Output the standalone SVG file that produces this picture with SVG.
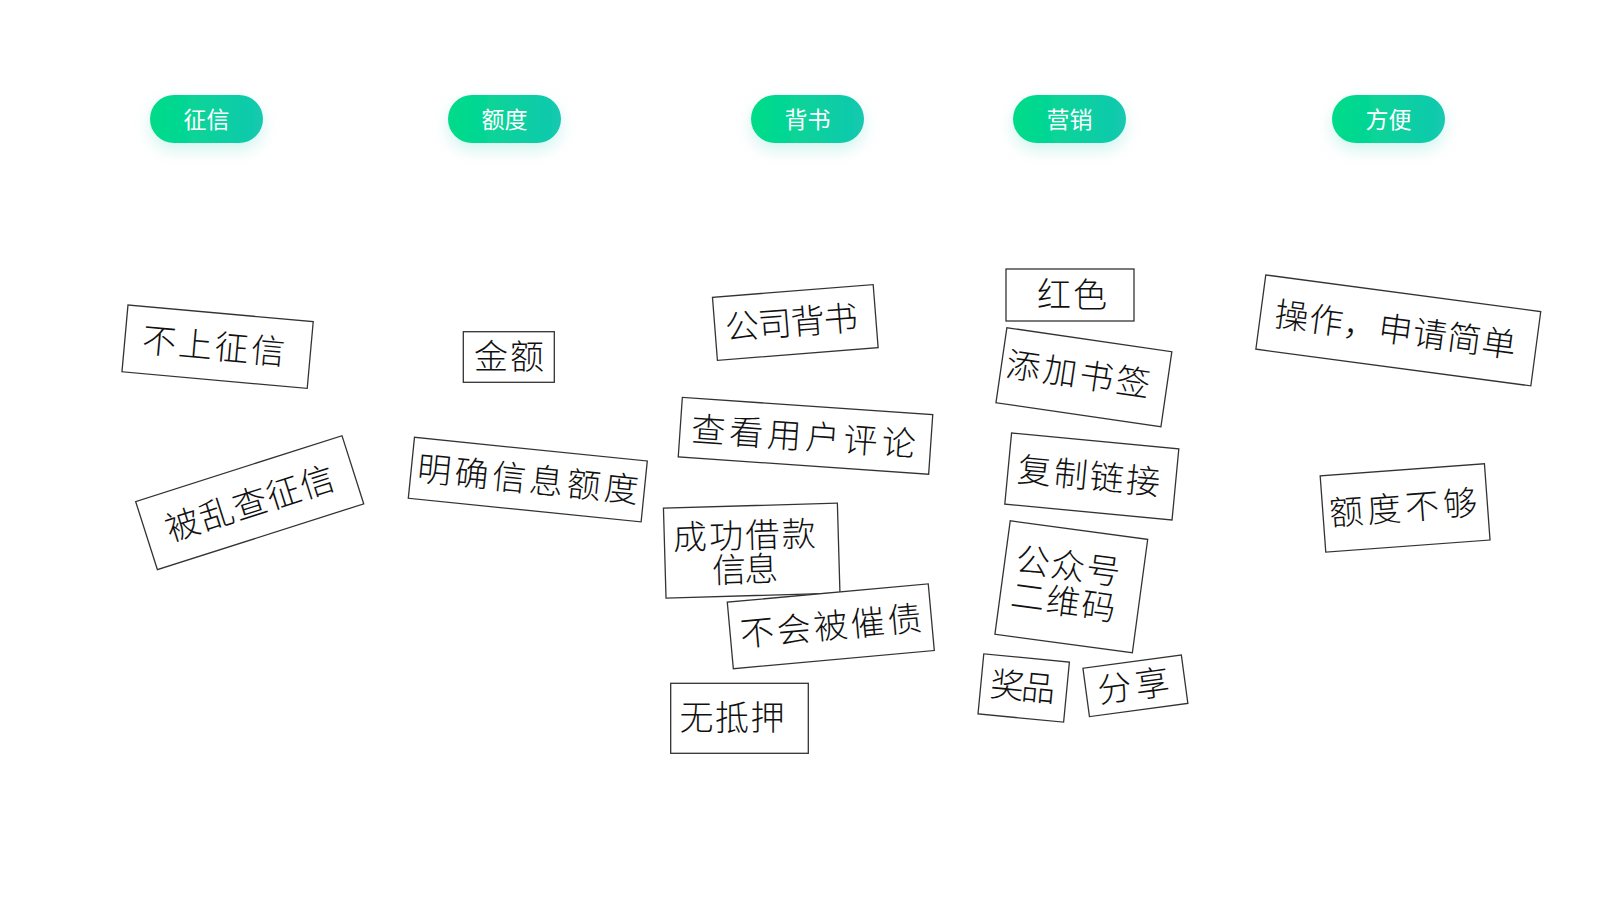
<svg xmlns="http://www.w3.org/2000/svg" width="1600" height="900" viewBox="0 0 1600 900">
<defs>
<linearGradient id="pillGrad" x1="0" y1="0" x2="1" y2="0">
<stop offset="0" stop-color="#00DC88"/>
<stop offset="1" stop-color="#13C8B0"/>
</linearGradient>
<filter id="pillShadow" x="-40%" y="-60%" width="180%" height="240%">
<feDropShadow dx="0" dy="7" stdDeviation="8" flood-color="#10c8a0" flood-opacity="0.18"/>
</filter>
</defs>
<style>
.pill{fill:url(#pillGrad);filter:url(#pillShadow)}
.pt{fill:#ffffff;font-family:"Noto Sans CJK SC","Noto Sans",sans-serif;font-size:23px;font-weight:400;text-anchor:middle}
.card{fill:#ffffff;stroke:#333333;stroke-width:1.3}
.ct{fill:#111111;font-family:"Noto Sans CJK SC","Noto Sans",sans-serif;font-size:34px;font-weight:300;text-anchor:middle}
</style>
<rect width="1600" height="900" fill="#ffffff"/>

<g id="header-zhengxin"><rect class="pill" x="150" y="95" width="113" height="48" rx="24"/><text class="pt" x="206.5" y="127.5">征信</text></g>
<g id="header-edu"><rect class="pill" x="448" y="95" width="113" height="48" rx="24"/><text class="pt" x="504.5" y="127.5">额度</text></g>
<g id="header-beishu"><rect class="pill" x="751" y="95" width="113" height="48" rx="24"/><text class="pt" x="807.5" y="127.5">背书</text></g>
<g id="header-yingxiao"><rect class="pill" x="1013" y="95" width="113" height="48" rx="24"/><text class="pt" x="1069.5" y="127.5">营销</text></g>
<g id="header-fangbian"><rect class="pill" x="1332" y="95" width="113" height="48" rx="24"/><text class="pt" x="1388.5" y="127.5">方便</text></g>

<g id="card-bushangzhengxin" transform="translate(217.6,346.7) rotate(5.15)"><rect class="card" x="-93" y="-33.5" width="186" height="67"/><text class="ct" x="-4" y="12" textLength="143" lengthAdjust="spacing">不上征信</text></g>
<g id="card-beiluanchazhengxin" transform="translate(249.7,502.7) rotate(-17.7)"><rect class="card" x="-108.3" y="-35.75" width="216.6" height="71.5"/><text class="ct" x="0" y="13" font-size="36" textLength="175" lengthAdjust="spacing">被乱查征信</text></g>

<g id="card-jine"><rect class="card" x="463.3" y="331.7" width="91" height="50.6"/><text class="ct" x="509" y="369" font-size="32" textLength="70" lengthAdjust="spacing">金额</text></g>
<g id="card-mingquexinxiedu" transform="translate(527.8,479.6) rotate(5.8)"><rect class="card" x="-117" y="-30.6" width="234" height="61.2"/><text class="ct" x="0" y="12" textLength="222" lengthAdjust="spacing">明确信息额度</text></g>

<g id="card-gongsibeishu" transform="translate(795.3,322.5) rotate(-4.5)"><rect class="card" x="-80.6" y="-31.6" width="161.2" height="63.2"/><text class="ct" x="-4" y="12" font-size="33" textLength="133" lengthAdjust="spacing">公司背书</text></g>
<g id="card-chakanyonghupinglun" transform="translate(805.5,435.8) rotate(3.95)"><rect class="card" x="-125.5" y="-29.85" width="251" height="59.7"/><text class="ct" x="-2" y="13" font-size="36" textLength="225" lengthAdjust="spacing">查看用户评论</text></g>
<g id="card-chenggongjiekuanxinxi" transform="translate(751.7,550.6) rotate(-1.65)"><rect class="card" x="-87" y="-45" width="174" height="90"/><text class="ct" x="-7" y="-3" textLength="143" lengthAdjust="spacing">成功借款</text><text class="ct" x="-7" y="31" textLength="66" lengthAdjust="spacing">信息</text></g>
<g id="card-buhuibeicuizhai" transform="translate(830.8,626.3) rotate(-5.2)"><rect class="card" x="-100.9" y="-33.45" width="201.8" height="66.9"/><text class="ct" x="0" y="12" textLength="182" lengthAdjust="spacing">不会被催债</text></g>
<g id="card-wudiya"><rect class="card" x="670.7" y="683.3" width="137.6" height="70"/><text class="ct" x="732" y="730" textLength="105" lengthAdjust="spacing">无抵押</text></g>

<g id="card-hongse"><rect class="card" x="1006" y="269" width="128" height="52"/><text class="ct" x="1072" y="307" textLength="70" lengthAdjust="spacing">红色</text></g>
<g id="card-tianjiashuqian" transform="translate(1083.9,377.2) rotate(8.28)"><rect class="card" x="-83.35" y="-37.9" width="166.7" height="75.8"/><text class="ct" x="-6" y="10" textLength="145" lengthAdjust="spacing">添加书签</text></g>
<g id="card-fuzhilianjie" transform="translate(1091.8,476.5) rotate(5.46)"><rect class="card" x="-84" y="-35.7" width="168" height="71.4"/><text class="ct" x="-3" y="12" textLength="143" lengthAdjust="spacing">复制链接</text></g>
<g id="card-gongzhonghaoerweima" transform="translate(1071.3,586.8) rotate(7.7)"><rect class="card" x="-69.35" y="-57.2" width="138.7" height="114.4"/><text class="ct" x="-6" y="-8" font-size="33" textLength="105" lengthAdjust="spacing">公众号</text><text class="ct" x="-6" y="28" font-size="33" textLength="105" lengthAdjust="spacing">二维码</text></g>
<g id="card-jiangpin" transform="translate(1023.7,688) rotate(5.5)"><rect class="card" x="-43" y="-30.15" width="86" height="60.3"/><text class="ct" x="-1" y="11" font-size="32" textLength="65" lengthAdjust="spacing">奖品</text></g>
<g id="card-fenxiang" transform="translate(1135.4,685.8) rotate(-7.7)"><rect class="card" x="-49.65" y="-24.4" width="99.3" height="48.8"/><text class="ct" x="-2" y="12" font-size="32" textLength="72" lengthAdjust="spacing">分享</text></g>

<g id="card-caozuoshenqingjiandan" transform="translate(1398.3,330.4) rotate(7.6)"><rect class="card" x="-138.7" y="-37.45" width="277.4" height="74.9"/><text class="ct" x="-3" y="12" textLength="243" lengthAdjust="spacing">操作，申请简单</text></g>
<g id="card-edubugou" transform="translate(1405.1,507.9) rotate(-4.2)"><rect class="card" x="-82.35" y="-38.25" width="164.7" height="76.5"/><text class="ct" x="-2" y="12" textLength="148" lengthAdjust="spacing">额度不够</text></g>
</svg>
